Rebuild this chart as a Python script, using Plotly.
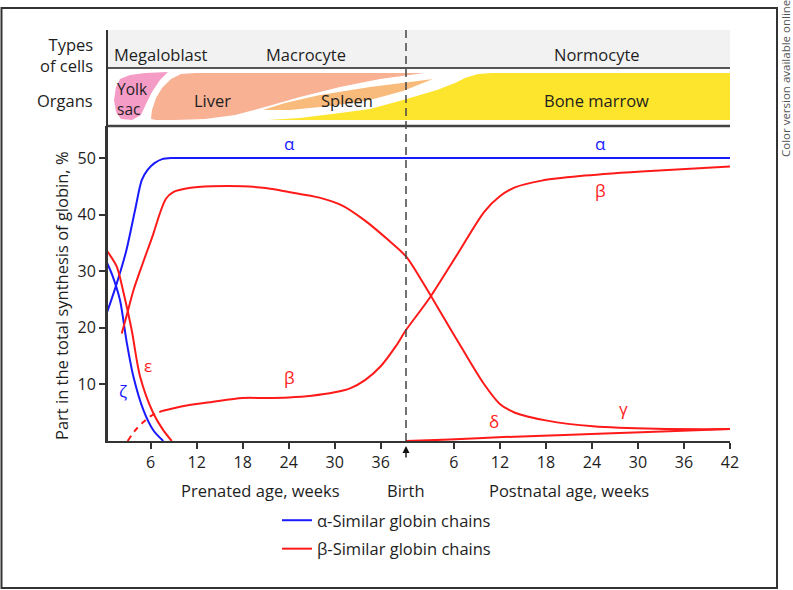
import plotly.graph_objects as go

# ---------------- data (weeks from conception, % of globin synthesis) ----------------
BIRTH = 39.3          # position of birth on the week axis
POST_OFFSET = 39.55   # postnatal week n is drawn at POST_OFFSET + n

prenatal_ticks = [6, 12, 18, 24, 30, 36]
postnatal_ticks = [6, 12, 18, 24, 30, 36, 42]
y_ticks = [10, 20, 30, 40, 50]

alpha_w = [0.31, 1.5, 2.8, 4.0, 4.84, 5.6, 6.5, 7.5, 8.75, 12, 40, 81.55]
alpha_v = [22.7, 27.5, 33.5, 41.0, 46.1, 47.9, 49.1, 49.8, 50.0, 50.0, 50.0, 50.0]

zeta_w = [0.31, 1.0, 2.0, 2.9, 3.75, 5.05, 6.35, 7.65]
zeta_v = [31.5, 29.3, 24.9, 17.3, 11.4, 5.5, 1.9, 0.0]

eps_w = [0.31, 1.58, 2.5, 3.53, 4.62, 6.35, 7.6, 8.75]
eps_v = [33.6, 30.8, 26.0, 19.6, 11.4, 4.9, 2.0, 0.0]

gamma_w = [2.23, 3.0, 3.75, 5.0, 6.35, 7.2, 8.0, 9.0, 11.0, 14.0, 18.0, 21.0, 24.0, 28.0,
           31.0, 34.0, 37.0, 39.3, 41.5, 44.0, 46.5, 49.4, 51.5, 53.5, 57.7, 63.7, 72.0, 81.55]
gamma_v = [19.0, 22.8, 26.6, 31.5, 36.6, 40.2, 42.8, 44.0, 44.7, 45.0, 45.0, 44.7, 44.0, 43.0,
           41.6, 38.9, 35.5, 32.6, 28.0, 22.3, 16.6, 10.2, 6.6, 5.0, 3.6, 2.6, 2.15, 2.1]

beta_dash_w = [3.0, 4.0, 5.0, 6.0, 7.5]
beta_dash_v = [0.0, 1.9, 3.3, 4.4, 5.3]

beta_w = [7.5, 10.0, 14.0, 18.0, 21.0, 24.0, 27.0, 30.0, 32.0, 34.0, 36.0, 38.0, 39.3,
          42.4, 46.0, 49.5, 51.5, 53.5, 57.0, 62.0, 70.0, 81.55]
beta_v = [5.3, 6.1, 6.9, 7.6, 7.6, 7.7, 8.0, 8.6, 9.3, 10.8, 13.2, 16.8, 19.6,
          25.3, 33.0, 40.5, 43.2, 44.8, 46.0, 46.8, 47.6, 48.5]

delta_w = [39.3, 45.0, 52.0, 60.0, 70.0, 81.55]
delta_v = [0.0, 0.25, 0.7, 1.05, 1.55, 2.1]

cell_types = ["Megaloblast", "Macrocyte", "Normocyte"]
organs = ["Yolk<br>sac", "Liver", "Spleen", "Bone marrow"]

BLUE = "#1a1aff"
RED = "#ff1a1a"
DARK = "#333333"
TXT = "#1e1e1e"
FONT = "Open Sans"
FS = 16.5

# ---------------- layout geometry (pixels) ----------------
W, H = 793, 590
L, R, T, B = 107, 730, 126, 441
X0, X1 = 0.31, 81.55
Y1 = (B - T) / 5.66


def px2x(px):
    return (px - L) / (R - L)


def py2y(py):
    return (B - py) / (B - T)


def path(points):
    return "M " + " L ".join(f"{px2x(a):.5f},{py2y(b):.5f}" for a, b in points) + " Z"


fig = go.Figure()

line_kw = dict(width=2, shape="spline", smoothing=0.8)
fig.add_trace(go.Scatter(x=alpha_w, y=alpha_v, mode="lines", line=dict(color=BLUE, **line_kw),
                         name="α-Similar globin chains", legendgroup="a", showlegend=True))
fig.add_trace(go.Scatter(x=zeta_w, y=zeta_v, mode="lines", line=dict(color=BLUE, **line_kw),
                         showlegend=False, legendgroup="a"))
fig.add_trace(go.Scatter(x=gamma_w, y=gamma_v, mode="lines", line=dict(color=RED, **line_kw),
                         name="β-Similar globin chains", legendgroup="b", showlegend=True))
fig.add_trace(go.Scatter(x=eps_w, y=eps_v, mode="lines", line=dict(color=RED, **line_kw),
                         showlegend=False, legendgroup="b"))
fig.add_trace(go.Scatter(x=beta_dash_w, y=beta_dash_v, mode="lines",
                         line=dict(color=RED, dash="6px,5px", **line_kw),
                         showlegend=False, legendgroup="b"))
fig.add_trace(go.Scatter(x=beta_w, y=beta_v, mode="lines", line=dict(color=RED, **line_kw),
                         showlegend=False, legendgroup="b"))
fig.add_trace(go.Scatter(x=delta_w, y=delta_v, mode="lines", line=dict(color=RED, **line_kw),
                         showlegend=False, legendgroup="b"))

shapes = []
shapes.append(dict(type="rect", xref="paper", yref="paper", x0=0, x1=1, y0=py2y(68), y1=py2y(30),
                   fillcolor="#f2f2f2", line=dict(width=0), layer="below"))
yolk = [(120, 79), (130, 75), (145, 73), (168, 72), (160, 80), (152, 92), (146, 104), (141, 115),
        (132, 120), (121, 119), (116, 112), (114, 100), (116, 87)]
liver = [(151, 119), (152, 110), (156, 98), (162, 88), (171, 79), (181, 74), (195, 73), (300, 73),
         (424, 73), (380, 79), (340, 87), (300, 97), (265, 107), (235, 115), (205, 119), (175, 120), (156, 120)]
spleen = [(263, 110), (285, 103), (320, 95), (370, 87), (410, 82), (433, 79), (403, 91), (370, 100),
          (330, 106), (290, 110)]
marrow = [(268, 120), (300, 118), (340, 113), (370, 109), (403, 100), (437, 90), (455, 83), (465, 78),
          (478, 74), (492, 73), (730, 73), (730, 120)]
for pts, col in [(yolk, "#f49cc6"), (liver, "#f8b193"), (spleen, "#f9bb7b"), (marrow, "#fde52d")]:
    shapes.append(dict(type="path", xref="paper", yref="paper", path=path(pts), fillcolor=col,
                       line=dict(width=0), layer="below"))
shapes.append(dict(type="line", xref="paper", yref="paper", x0=0, x1=1, y0=py2y(68), y1=py2y(68),
                   line=dict(color="#555555", width=2)))
shapes.append(dict(type="line", xref="paper", yref="paper", x0=0, x1=1, y0=py2y(126), y1=py2y(126),
                   line=dict(color="#444444", width=2.5)))
shapes.append(dict(type="line", xref="paper", yref="paper", x0=0, x1=0, y0=0, y1=py2y(30),
                   line=dict(color=DARK, width=2)))
shapes.append(dict(type="line", xref="x", yref="paper", x0=BIRTH, x1=BIRTH, y0=0, y1=py2y(30),
                   line=dict(color="#444444", width=1.5, dash="8px,5px")))
shapes.append(dict(type="rect", xref="paper", yref="paper", x0=px2x(1.5), x1=px2x(777), y0=py2y(588), y1=py2y(8),
                   line=dict(color=DARK, width=2), fillcolor="rgba(0,0,0,0)"))

ann = []


def txt(text, px, py, size=FS, color=TXT, xanchor="center", angle=0):
    ann.append(dict(text=text, x=px2x(px), y=py2y(py), xref="paper", yref="paper", showarrow=False,
                    font=dict(family=FONT, size=size, color=color), xanchor=xanchor, yanchor="middle",
                    textangle=angle, align="right" if xanchor == "right" else "left"))


txt("Types<br>of cells", 95, 55, xanchor="right")
txt("Organs", 95, 100, xanchor="right")
txt(cell_types[0], 161, 55)
txt(cell_types[1], 306, 55)
txt(cell_types[2], 597, 55)
txt(organs[0], 115, 99, size=15.5, xanchor="left")
txt(organs[1], 212, 100)
txt(organs[2], 347, 100)
txt(organs[3], 596, 100)

txt("Part in the total synthesis of globin, %", 61, 296, angle=-90)
txt("Prenated age, weeks", 260, 491)
txt("Birth", 406, 491)
txt("Postnatal age, weeks", 569, 491)
txt("Color version available online", 785, 78, size=11.5, color="#555555", angle=-90)

for t, x, y, c in [("α", 24.1, 52.6, BLUE), ("α", 64.7, 52.6, BLUE), ("β", 64.7, 44.3, RED),
                   ("β", 24.1, 11.3, RED), ("ε", 5.6, 13.4, RED), ("ζ", 2.4, 8.7, BLUE),
                   ("δ", 50.8, 3.4, RED), ("γ", 67.7, 5.7, RED)]:
    ann.append(dict(text=t, x=x, y=y, xref="x", yref="y", showarrow=False,
                    font=dict(family=FONT, size=17, color=c)))

ann.append(dict(text="", x=BIRTH, y=py2y(446), xref="x", yref="paper", ax=0, ay=13, showarrow=True,
                arrowhead=2, arrowsize=1, arrowwidth=1.4, arrowcolor="#111111"))

tickvals = prenatal_ticks + [POST_OFFSET + p for p in postnatal_ticks]
ticktext = [str(p) for p in prenatal_ticks] + [str(p) for p in postnatal_ticks]

fig.update_layout(
    width=W, height=H,
    margin=dict(l=L, r=W - R, t=T, b=H - B, pad=0),
    paper_bgcolor="white", plot_bgcolor="white",
    font=dict(family=FONT, size=FS, color=TXT),
    shapes=shapes, annotations=ann,
    xaxis=dict(range=[X0, X1], tickvals=tickvals, ticktext=ticktext, showline=True, linecolor=DARK,
               linewidth=2, ticks="outside", ticklen=6, tickwidth=1.5, tickcolor=DARK, showgrid=False,
               zeroline=False, tickfont=dict(size=16, color=TXT)),
    yaxis=dict(range=[0, Y1], tickvals=y_ticks, showline=True, linecolor=DARK, linewidth=2,
               ticks="outside", ticklen=6, tickwidth=1.5, tickcolor=DARK, showgrid=False, zeroline=False,
               tickfont=dict(size=16, color=TXT)),
    legend=dict(x=px2x(277), y=py2y(503), xanchor="left", yanchor="top", bgcolor="rgba(0,0,0,0)",
                font=dict(family=FONT, size=FS, color=TXT), tracegroupgap=4, itemwidth=30),
    showlegend=True,
)

fig.write_html("out.html", config={"displayModeBar": False},
               post_script="document.body.style.margin='0px';")
